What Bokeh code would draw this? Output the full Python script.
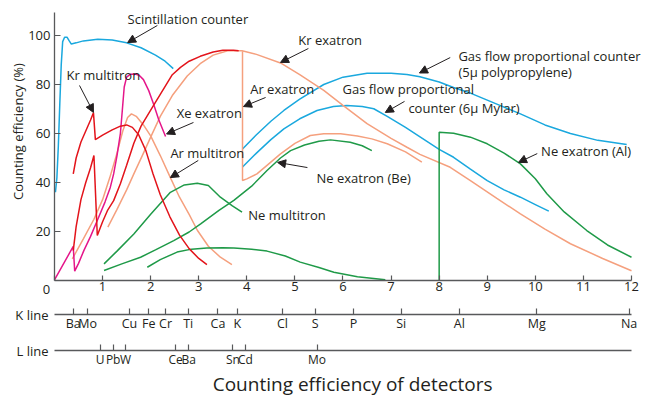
import math
from bokeh.plotting import figure
from bokeh.models import Range1d, LinearAxis, FixedTicker, Label, Arrow, NormalHead
from bokeh.embed import file_html
from bokeh.resources import INLINE

# ---------------- data ----------------
x_ticks = list(range(13))
y_ticks = [20, 40, 60, 80, 100]

k_line_pos = [0.39, 0.69, 1.56, 1.96, 2.31, 2.78, 3.40, 3.80, 4.74, 5.42, 6.22, 7.21, 8.42, 10.03, 11.95]
k_line_names = ["Ba", "Mo", "Cu", "Fe", "Cr", "Ti", "Ca", "K", "Cl", "S", "P", "Si", "Al", "Mg", "Na"]
l_line_pos = [0.95, 1.22, 1.48, 2.52, 2.79, 3.71, 3.97, 5.46]
l_line_names = ["U", "Pb", "W", "Ce", "Ba", "Sn", "Cd", "Mo"]

scint_x = [0.02, 0.05, 0.08, 0.11, 0.14, 0.17, 0.21, 0.26, 0.30, 0.35, 0.45, 0.6, 0.9, 1.2, 1.5, 1.8, 2.1, 2.3, 2.47]
scint_y = [36, 42, 55, 72, 88, 97.5, 99.3, 99.3, 98, 96.5, 97, 97.8, 98.5, 98.2, 97, 95, 92, 89.5, 86.5]

kr_multitron_x = [0.39, 0.45, 0.55, 0.65, 0.75, 0.81, 0.85, 1.0, 1.2, 1.37, 1.5, 1.62, 1.75, 1.9, 2.05, 2.2, 2.4, 2.6, 2.8, 3.0, 3.17]
kr_multitron_y = [43.5, 50, 56.5, 61, 65.5, 68.5, 57.5, 59.3, 61.5, 63, 63.5, 62.5, 59.5, 53, 43.5, 35, 26, 18.5, 13, 9, 6.5]

red_rise_x = [0.39, 0.45, 0.55, 0.65, 0.75, 0.82, 0.89, 1.0, 1.1, 1.23, 1.37, 1.5, 1.65, 1.8, 2.0, 2.2, 2.45, 2.62, 2.8, 3.03, 3.3, 3.5, 3.72, 3.83]
red_rise_y = [12.2, 22, 33, 40, 46, 51, 18.4, 24, 28.5, 32.6, 39.5, 47, 56, 63, 69.5, 76, 84, 87, 89.5, 91.5, 93.3, 94, 94, 93.8]

ar_multitron_x = [0.37, 0.6, 0.82, 1.0, 1.15, 1.3, 1.42, 1.52, 1.6, 1.7, 1.85, 2.0, 2.2, 2.41, 2.6, 2.8, 2.97, 3.2, 3.45, 3.69]
ar_multitron_y = [8.8, 17, 25, 33, 42, 52, 61, 66.5, 68, 67, 63.5, 59, 51, 42, 34, 27, 20.5, 14, 9.5, 6.5]

kr_exatron_x = [1.11, 1.3, 1.5, 1.65, 1.85, 2.0, 2.2, 2.45, 2.76, 3.03, 3.3, 3.6, 3.9, 4.2, 4.7, 5.1, 5.6, 6.0, 6.5, 7.0, 7.33, 7.6, 8.23, 8.65, 9.2, 9.69, 10.2, 10.73, 11.4, 12.0]
kr_exatron_y = [21.8, 29, 37, 43.5, 52, 58.5, 67, 75.5, 83.5, 88.5, 92, 93.8, 93.8, 92.3, 88.8, 84, 77.6, 71.5, 64, 58, 54.4, 51.5, 46.2, 40.8, 33.5, 27.2, 21, 15, 9, 4]

ar_exatron_x = [3.91, 3.91, 4.0, 4.21, 4.45, 4.7, 5.0, 5.32, 5.6, 5.95, 6.3, 6.6, 6.92, 7.3, 7.64]
ar_exatron_y = [93.6, 40.8, 41.5, 43.5, 47.5, 51.7, 56, 59.2, 59.9, 59.9, 59, 57.8, 55.8, 52.5, 48.3]

gas_pp_x = [3.91, 4.2, 4.5, 4.77, 5.1, 5.6, 6.0, 6.5, 7.0, 7.33, 7.6, 8.0, 8.3, 8.65, 9.2, 9.69, 10.2, 10.73, 11.3, 11.9]
gas_pp_y = [53.7, 59.5, 65, 69.4, 74, 80, 83, 84.6, 84.6, 84.1, 83.2, 81, 78.8, 76.5, 72, 68, 63.5, 60, 57.2, 55.5]

gas_mylar_x = [3.91, 4.2, 4.5, 4.77, 5.1, 5.46, 5.8, 6.08, 6.4, 6.64, 6.92, 7.3, 7.61, 8.0, 8.3, 8.65, 9.0, 9.35, 9.69, 10.0, 10.28]
gas_mylar_y = [46.3, 52, 57.5, 61.9, 66, 69.4, 71, 71.4, 71, 70.1, 67, 62.5, 58.5, 53.5, 50.3, 45.5, 40.8, 37, 34, 31, 28.3]

ne_al_x = [8.0, 8.0, 8.3, 8.65, 9.0, 9.35, 9.69, 10.0, 10.24, 10.6, 11.07, 11.5, 12.0]
ne_al_y = [0, 60.5, 60.1, 58.5, 55.8, 52, 47.6, 41.5, 35.4, 28, 20.4, 14.5, 9.5]

ne_be_x = [1.03, 1.4, 1.79, 2.1, 2.48, 2.8, 3.04, 3.42, 3.73, 4.1, 4.42, 4.7, 4.91, 5.2, 5.5, 5.74, 6.15, 6.4, 6.6]
ne_be_y = [4.1, 6.8, 9.5, 12.5, 16.3, 19.8, 23.1, 28.6, 32.7, 38.5, 44.9, 50, 53, 55.3, 56.8, 57.4, 56.4, 55, 53]

ne_multitron_x = [1.03, 1.3, 1.65, 2.0, 2.41, 2.7, 2.97, 3.2, 3.45, 3.7, 3.9]
ne_multitron_y = [6.8, 12, 19, 27, 36, 39, 39.7, 38.8, 34, 30.5, 27.9]

ne_low_x = [1.93, 2.2, 2.55, 2.85, 3.17, 3.5, 3.73, 4.1, 4.42, 4.8, 5.11, 5.5, 5.81, 6.3, 6.88]
ne_low_y = [5.4, 8.5, 11.6, 12.8, 13.3, 13.4, 13.3, 12.8, 12, 10, 7.5, 5.3, 3.4, 1.5, 0.3]

xe_exatron_x = [0.0, 0.39, 0.42, 0.5, 0.61, 0.75, 0.89, 1.05, 1.16, 1.23, 1.3, 1.37, 1.41, 1.45, 1.5, 1.58, 1.68, 1.76, 1.85, 1.96, 2.06, 2.17, 2.31]
xe_exatron_y = [0.3, 13.9, 3.8, 7, 12.2, 18, 24.5, 32, 38, 43.5, 51, 60, 69.4, 79, 83, 84.2, 84.3, 83.8, 82, 77.5, 72, 65.5, 58.8]

# annotation texts and anchor positions (data units)
label_texts = ["Scintillation counter", "Kr multitron", "Xe exatron", "Ar multitron", "Ne multitron",
               "Kr exatron", "Ar exatron", "Gas flow proportional", "counter (6\u03bc Mylar)",
               "Gas flow proportional counter", "(5\u03bc polypropylene)", "Ne exatron (Be)", "Ne exatron (Al)"]
label_x = [1.52, 0.25, 2.54, 2.41, 4.03, 5.07, 4.07, 5.99, 7.36, 8.40, 8.40, 5.45, 10.12]
label_y = [106.9, 83.7, 68.2, 52.2, 26.9, 98.0, 78.0, 78.0, 70.6, 91.8, 85.1, 42.0, 52.7]

arrow_x0 = [2.14, 0.52, 2.89, 2.99, 5.28, 4.39, 7.28, 8.23, 5.26, 10.04]
arrow_y0 = [104.1, 79.6, 64.5, 49.0, 94.7, 74.7, 73.1, 91.0, 46.1, 51.8]
arrow_x1 = [1.52, 0.81, 2.33, 2.41, 4.70, 3.93, 6.88, 7.59, 4.64, 9.65]
arrow_y1 = [97.1, 68.6, 59.8, 42.0, 89.0, 71.0, 68.6, 84.7, 48.2, 48.2]

# ---------------- styling ----------------
FONT = "Open Sans"
TXT = "#231f20"
AX = "#58595b"
CYAN = "#1aa8de"
RED = "#e3141b"
SALMON = "#f5a07e"
MAGENTA = "#e5168a"
GREEN = "#1f9a48"

W, H = 646, 400
PX_X0, PX_PER_X = 54.0, 48.083     # pixel of x=0, pixels per unit
PX_Y0, PX_PER_Y = 280.0, 2.45      # pixel of y=0, pixels per unit

x_start = -PX_X0 / PX_PER_X
x_end = (W - PX_X0) / PX_PER_X
y_end = PX_Y0 / PX_PER_Y
y_start = (PX_Y0 - H) / PX_PER_Y

p = figure(width=W, height=H, x_range=Range1d(x_start, x_end), y_range=Range1d(y_start, y_end),
           output_backend="svg", toolbar_location=None, x_axis_type=None, y_axis_type=None,
           min_border_left=0, min_border_right=0, min_border_top=0, min_border_bottom=0)
p.outline_line_color = None
p.background_fill_color = "white"
p.border_fill_color = "white"

Y_MAX = 109.4
K_LEVEL = -13.9
L_LEVEL = -28.6


def style_axis(ax):
    ax.axis_line_color = AX
    ax.axis_line_width = 1.3
    ax.major_tick_line_color = AX
    ax.major_tick_line_width = 1.2
    ax.major_tick_in = 6
    ax.major_tick_out = 0
    ax.minor_tick_line_color = None
    ax.major_label_text_font = FONT
    ax.major_label_text_font_size = "13px"
    ax.major_label_text_color = TXT


yaxis = LinearAxis(ticker=FixedTicker(ticks=y_ticks), fixed_location=0, bounds=(0, Y_MAX))
style_axis(yaxis)
yaxis.major_label_standoff = 4
p.add_layout(yaxis, "left")

xaxis = LinearAxis(ticker=FixedTicker(ticks=x_ticks), major_label_overrides={0: ""},
                   fixed_location=0, bounds=(0, 12))
style_axis(xaxis)
xaxis.major_tick_in = 5
xaxis.major_label_standoff = 1
p.add_layout(xaxis, "below")

kaxis = LinearAxis(ticker=FixedTicker(ticks=k_line_pos),
                   major_label_overrides={v: n for v, n in zip(k_line_pos, k_line_names)},
                   fixed_location=K_LEVEL, bounds=(0, 12))
style_axis(kaxis)
kaxis.major_label_text_font_size = "12.5px"
kaxis.major_label_standoff = 0
p.add_layout(kaxis, "below")

laxis = LinearAxis(ticker=FixedTicker(ticks=l_line_pos),
                   major_label_overrides={v: n for v, n in zip(l_line_pos, l_line_names)},
                   fixed_location=L_LEVEL, bounds=(0, 12))
style_axis(laxis)
laxis.major_label_text_font_size = "12px"
laxis.major_label_standoff = 0
p.add_layout(laxis, "below")

# curves
series = [
    (scint_x, scint_y, CYAN), (gas_pp_x, gas_pp_y, CYAN), (gas_mylar_x, gas_mylar_y, CYAN),
    (ar_multitron_x, ar_multitron_y, SALMON), (kr_exatron_x, kr_exatron_y, SALMON),
    (ar_exatron_x, ar_exatron_y, SALMON),
    (ne_be_x, ne_be_y, GREEN), (ne_multitron_x, ne_multitron_y, GREEN), (ne_low_x, ne_low_y, GREEN),
    (ne_al_x, ne_al_y, GREEN),
    (xe_exatron_x, xe_exatron_y, MAGENTA),
    (kr_multitron_x, kr_multitron_y, RED), (red_rise_x, red_rise_y, RED),
]
for xs, ys, c in series:
    p.line(xs, ys, line_color=c, line_width=1.5)

# texts
for t, x, y in zip(label_texts, label_x, label_y):
    p.add_layout(Label(x=x, y=y, text=t, text_font=FONT, text_font_size="13px", text_color=TXT,
                       text_baseline="middle", text_align="left"))

for x0, y0, x1, y1 in zip(arrow_x0, arrow_y0, arrow_x1, arrow_y1):
    p.add_layout(Arrow(x_start=x0, y_start=y0, x_end=x1, y_end=y1, line_color=TXT, line_width=1,
                       end=NormalHead(size=8, fill_color=TXT, line_color=TXT, line_width=1)))

# texts outside the plotting area
p.add_layout(Label(x=-0.749, y=60.8, text="Counting efficiency (%)", angle=math.pi / 2, text_font=FONT,
                   text_font_size="13px", text_color=TXT, text_align="center", text_baseline="middle"))
p.add_layout(Label(x=-0.166, y=-3.67, text="0", text_font=FONT, text_font_size="13px", text_color=TXT,
                   text_align="center", text_baseline="middle"))
p.add_layout(Label(x=-0.125, y=K_LEVEL, text="K line", text_font=FONT, text_font_size="13px",
                   text_color=TXT, text_align="right", text_baseline="middle"))
p.add_layout(Label(x=-0.125, y=L_LEVEL, text="L line", text_font=FONT, text_font_size="13px",
                   text_color=TXT, text_align="right", text_baseline="middle"))
p.add_layout(Label(x=6.2, y=-42.3, text="Counting efficiency of detectors", text_font=FONT,
                   text_font_size="19px", text_color=TXT, text_align="center", text_baseline="middle"))

open("out.html", "w").write(file_html(p, INLINE))
